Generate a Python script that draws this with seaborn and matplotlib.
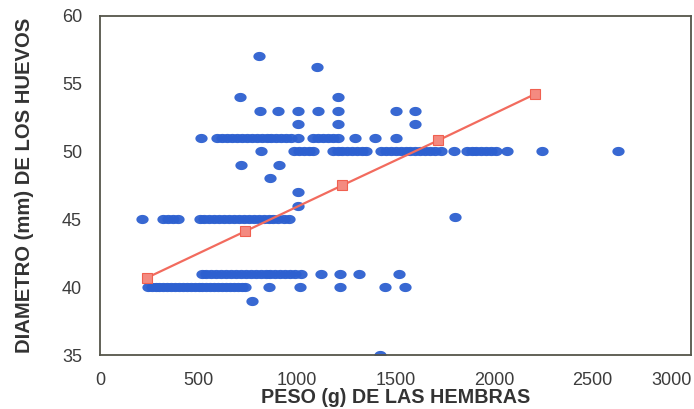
import numpy as np
import pandas as pd
import matplotlib
matplotlib.use("Agg")
import matplotlib.pyplot as plt
from matplotlib.path import Path
import seaborn as sns

# ---- data ----
row40_x = [245, 265, 285, 300, 320, 340, 360, 380, 400, 420, 440, 460, 480, 500, 520,
           540, 560, 580, 600, 620, 640, 660, 680, 700, 720, 735, 855, 1015, 1220, 1445, 1545]
row41_x = [515, 540, 565, 590, 615, 640, 665, 690, 715, 740, 765, 790, 815, 840, 865,
           890, 915, 940, 965, 990, 1020, 1120, 1220, 1315, 1515]
row45_x = [212, 320, 345, 370, 395, 505, 530, 555, 580, 605, 630, 655, 680, 705, 730,
           755, 780, 805, 830, 855, 880, 905, 935, 960]
row50_x = [815, 985, 1010, 1035, 1060, 1080, 1180, 1205, 1230, 1255, 1280, 1305, 1330,
           1350, 1425, 1450, 1475, 1500, 1525, 1550, 1575, 1600, 1625, 1650, 1675, 1700,
           1730, 1795, 1860, 1885, 1910, 1935, 1960, 1985, 2010, 2065, 2240, 2630]
row51_x = [510, 595, 620, 645, 670, 695, 720, 745, 770, 795, 820, 845, 870, 895, 920,
           945, 970, 1005, 1080, 1105, 1130, 1155, 1180, 1210, 1295, 1395, 1500]
other_x = [770, 1800, 1005, 1005, 860, 715, 910, 1005, 1205, 1600,
           810, 905, 1005, 1105, 1205, 1500, 1600, 710, 1205, 1100, 805, 1420]
other_y = [39, 45.2, 46, 47, 48, 49, 49, 52, 52, 52,
           53, 53, 53, 53, 53, 53, 53, 54, 54, 56.2, 57, 35]

trend_x = [240, 735, 1230, 1715, 2205]
trend_y = [40.7, 44.1, 47.5, 50.8, 54.2]

x_ticks = [0, 500, 1000, 1500, 2000, 2500, 3000]
y_ticks = [35, 40, 45, 50, 55, 60]

xs = row40_x + row41_x + row45_x + row50_x + row51_x + other_x
ys = ([40] * len(row40_x) + [41] * len(row41_x) + [45] * len(row45_x)
      + [50] * len(row50_x) + [51] * len(row51_x) + other_y)
df = pd.DataFrame({"peso": xs, "diametro": ys})
trend = pd.DataFrame({"peso": trend_x, "diametro": trend_y})

# ---- styling ----
sns.set_style("white")
plt.rcParams["font.family"] = ["Liberation Sans", "DejaVu Sans"]

fig = plt.figure(figsize=(6.94, 4.09), dpi=100)
ax = fig.add_axes([0.1441, 0.132, 0.852, 0.83])

t = np.linspace(0, 2 * np.pi, 40)
ellipse = Path(np.column_stack([np.cos(t), 0.75 * np.sin(t)]), closed=True)

dot_color = "#2d60d0"
sns.scatterplot(data=df, x="peso", y="diametro", ax=ax, marker=ellipse, s=78,
                color=dot_color, linewidth=0, alpha=0.95, zorder=2)
sns.lineplot(data=trend, x="peso", y="diametro", ax=ax, color="#f26b5e", linewidth=1.6,
             marker="s", markersize=7, markerfacecolor="#f48a80",
             markeredgecolor="#f06050", markeredgewidth=0.8, zorder=3)

ax.set_xlim(0, 3000)
ax.set_ylim(35, 60)
ax.set_xticks(x_ticks)
ax.set_xticks(np.arange(250, 3000, 500), minor=True)
ax.set_yticks(y_ticks)
ax.set_yticks([37.5, 42.5, 47.5, 52.5, 57.5], minor=True)

spine_c = "#55554a"
for sp in ax.spines.values():
    sp.set_color(spine_c)
    sp.set_linewidth(1.3)

ax.tick_params(axis="x", which="both", direction="inout", length=9, width=1,
               color=spine_c, labelsize=13, labelcolor="#3c3c3c", pad=8)
ax.tick_params(axis="y", which="both", direction="out", length=5, width=1,
               color=spine_c, labelsize=13, labelcolor="#3c3c3c", pad=8)
ax.tick_params(axis="x", which="minor", length=9)
ax.tick_params(axis="y", which="minor", length=5)

labels = ax.get_xticklabels()
labels[-1].set_horizontalalignment("right")

ax.set_xlabel("PESO (g) DE LAS HEMBRAS", fontsize=14.2, fontweight="bold",
              color="#333333", labelpad=-1)
ax.set_ylabel("DIAMETRO (mm) DE LOS HUEVOS", fontsize=14.6, fontweight="bold",
              color="#333333", labelpad=20)
ax.grid(False)

fig.savefig("out.png", dpi=100)
